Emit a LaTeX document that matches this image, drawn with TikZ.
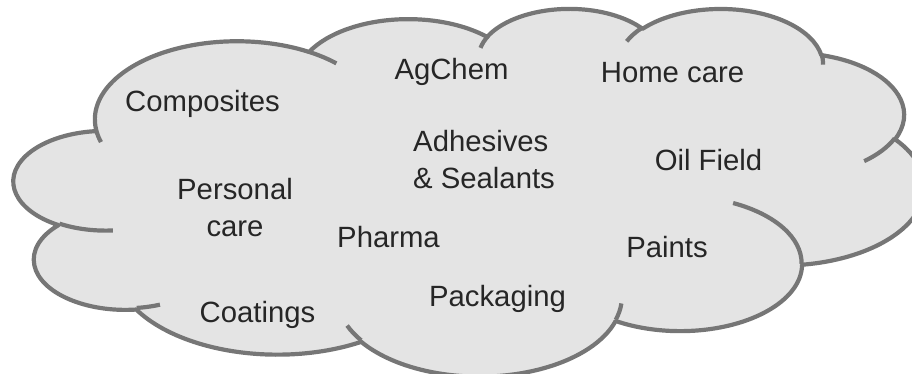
\documentclass[tikz,border=0pt]{standalone}
\usepackage{fontspec}
\setmainfont{Liberation Sans}
\definecolor{cloudfill}{HTML}{E4E4E4}
\definecolor{cloudline}{HTML}{767676}
\definecolor{txt}{HTML}{262626}
\tikzset{
  lobe/.code n args={4}{%
    \pgfmathsetmacro\lobeS{atan2(#1*sin(#3),#2*cos(#3))}%
    \pgfmathsetmacro\lobeE{atan2(#1*sin(#3+#4),#2*cos(#3+#4))}%
    \pgfmathsetmacro\lobeD{mod(\lobeE-\lobeS+720,360)}%
    \edef\lobeTmp{\noexpand\tikzset{x radius=#1, y radius=#2, start angle=\lobeS, delta angle=\lobeD}}%
    \lobeTmp},
  outline/.style={draw=cloudline, line width=4.2pt, line join=round},
  lbl/.style={font=\fontsize{29.3}{36.5}\selectfont, text=txt, inner sep=0pt}
}
\begin{document}
\begin{tikzpicture}
\useasboundingbox (0pt,0pt) rectangle (912pt,-374pt);
\clip (0pt,0pt) rectangle (912pt,-374pt);
\begin{scope}[x=2.107pt, y=-0.851pt, shift={(14pt,-7.7pt)}]
\path[fill=cloudfill, outline] (39.00,143.70)
  arc[lobe={67.53}{91.90}{-190.48748}{123.78053}]
  arc[lobe={53.33}{72.67}{-144.10238}{89.94523}]
  arc[lobe={43.65}{59.45}{-145.80792}{99.72302}]
  arc[lobe={48.57}{65.95}{-130.98607}{117.24173}]
  arc[lobe={53.33}{72.73}{-78.70888}{109.02692}]
  arc[lobe={67.75}{92.20}{-46.26725}{130.269}]
  arc[lobe={57.85}{78.67}{0.62502}{114.03333}]
  arc[lobe={67.52}{92.15}{22.4516}{115.17255}]
  arc[lobe={77.20}{105.43}{66.24263}{75.71102}]
  arc[lobe={43.60}{59.18}{-274.94208}{146.73557}]
  arc[lobe={43.45}{59.45}{-246.8285}{152.51885}]
  -- cycle;
\draw[outline] (46.93,261.77) arc[lobe={43.45}{59.45}{86.742}{26.4295}];
\draw[outline] (69.28,348.99) arc[lobe={43.60}{59.18}{73.61047}{11.44747}];
\draw[outline] (164.78,390.90) arc[lobe={67.52}{92.15}{137.62415}{14.0811}];
\draw[outline] (288.27,347.51) arc[lobe={67.52}{92.15}{6.45327}{15.99835}];
\draw[outline] (341.29,229.54) arc[lobe={57.85}{78.67}{-70.29235}{70.91737}];
\draw[outline] (417.98,153.54) arc[lobe={53.33}{72.73}{30.31803}{27.7515}];
\draw[outline] (383.24,54.26) arc[lobe={48.57}{65.95}{-13.74433}{14.8589}];
\draw[outline] (290.78,39.52) arc[lobe={48.57}{65.95}{-149.18145}{18.19537}];
\draw[outline] (221.41,47.20) arc[lobe={43.65}{59.45}{-163.49427}{17.68635}];
\draw[outline] (140.00,51.92) arc[lobe={67.53}{91.90}{-66.70695}{12.31935}];
\draw[outline] (41.27,157.89) arc[lobe={67.53}{91.90}{157.65435}{11.85817}];
\end{scope}
\node[lbl, anchor=base] (agchem) at (451.5pt,-80pt) {AgChem};
\node[lbl, anchor=base] (homecare) at (672.5pt,-82.5pt) {Home care};
\node[lbl, anchor=base] (composites) at (202.5pt,-112pt) {Composites};
\node[lbl, anchor=base west] (adhesives) at (413pt,-152pt) {\begin{tabular}[t]{@{}l@{}}Adhesives\\\& Sealants\end{tabular}};
\node[lbl, anchor=base] (oilfield) at (708.5pt,-170.5pt) {Oil Field};
\node[lbl, anchor=base] (personal) at (235pt,-200pt) {\begin{tabular}[t]{@{}c@{}}Personal\\care\end{tabular}};
\node[lbl, anchor=base] (pharma) at (388.5pt,-247pt) {Pharma};
\node[lbl, anchor=base] (paints) at (667pt,-257pt) {Paints};
\node[lbl, anchor=base] (packaging) at (497.5pt,-306pt) {Packaging};
\node[lbl, anchor=base] (coatings) at (257.5pt,-322pt) {Coatings};
\end{tikzpicture}
\end{document}
